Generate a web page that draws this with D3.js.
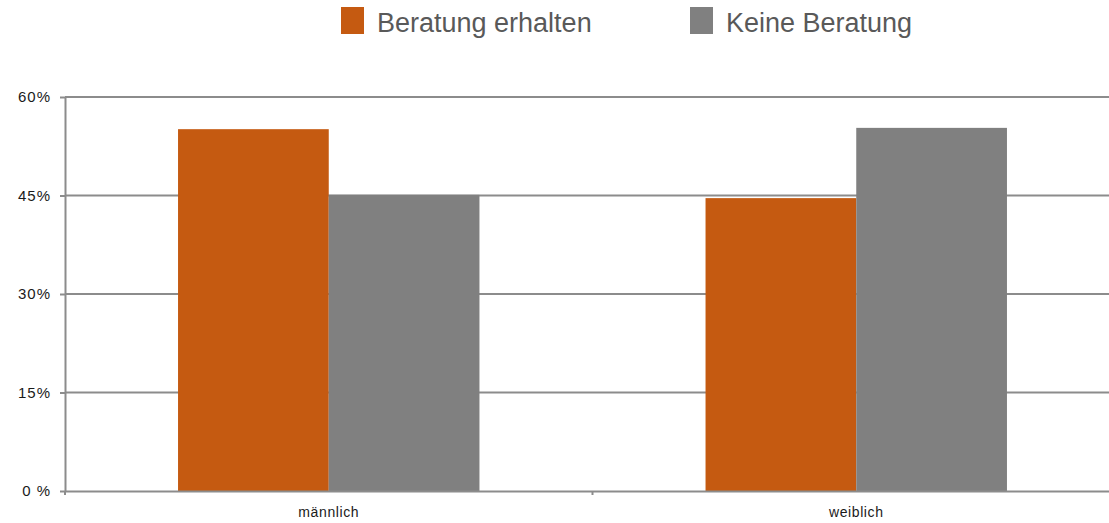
<!DOCTYPE html>
<html lang="de">
<head>
  <meta charset="UTF-8">
  <title>Beratung nach Geschlecht</title>
  <style>
    body { margin: 0; background: #fff; }
    svg { display: block; font-family: "Liberation Sans", Arial, sans-serif; }
    .grid line { stroke: #8c8c8c; stroke-width: 2px; }
    .axis path, .axis line { stroke: #8c8c8c; stroke-width: 2px; }
    .axis text { fill: #1a1a1a; font-size: 15px; letter-spacing: 1px; }
    .legend text { fill: #595959; font-size: 27px; }
  </style>
</head>
<body>
  <script src="https://cdn.jsdelivr.net/npm/d3@7"></script>
  <script>
    const categories = ['männlich', 'weiblich'];
    const seriesNames = ['Beratung erhalten', 'Keine Beratung'];
    const colors = ['#c55a11', '#808080'];
    const beratung = [0.551, 0.446];
    const keine = [0.451, 0.553];
    const yTicks = [0, 0.15, 0.30, 0.45, 0.60];

    const width = 1109, height = 523;
    const mLeft = 65, mRight = 1120, mTop = 97, mBottom = 491;

    const svg = d3.select('body').append('svg')
      .attr('width', width)
      .attr('height', height);

    const x = d3.scaleBand().domain(categories).range([mLeft, mRight]);
    const xs = d3.scaleBand().domain(seriesNames).range([0, x.bandwidth()]).paddingInner(0).paddingOuter(0.75);
    const y = d3.scaleLinear().domain([0, 0.6]).range([mBottom, mTop]);

    // gridlines
    svg.append('g').attr('class', 'grid')
      .selectAll('line')
      .data(yTicks.slice(1))
      .enter().append('line')
      .attr('x1', mLeft).attr('x2', mRight)
      .attr('y1', d => y(d)).attr('y2', d => y(d));

    // bars
    const values = [beratung, keine];
    const rows = [];
    categories.forEach((c, i) => {
      seriesNames.forEach((s, j) => rows.push({ cat: c, s: s, v: values[j][i], color: colors[j] }));
    });
    svg.append('g').selectAll('rect')
      .data(rows)
      .enter().append('rect')
      .attr('x', d => x(d.cat) + xs(d.s))
      .attr('y', d => y(d.v))
      .attr('width', xs.bandwidth())
      .attr('height', d => y(0) - y(d.v))
      .attr('fill', d => d.color);

    // y axis
    const fmt = d => d === 0 ? '0 %' : d3.format('.0%')(d);
    const yAxis = svg.append('g').attr('class', 'axis')
      .attr('transform', `translate(${mLeft},0)`)
      .call(d3.axisLeft(y).tickValues(yTicks).tickFormat(fmt).tickSize(5).tickSizeOuter(0));
    yAxis.selectAll('text').attr('dx', '-6');

    // x axis
    const xAxis = svg.append('g').attr('class', 'axis')
      .attr('transform', `translate(0,${mBottom})`)
      .call(d3.axisBottom(x).tickSize(0).tickPadding(16).tickSizeOuter(0));
    xAxis.selectAll('text').style('font-size', '14px').style('letter-spacing', '0.6px');
    xAxis.append('line')
      .attr('x1', x('weiblich')).attr('x2', x('weiblich'))
      .attr('y1', 0).attr('y2', 4);
    xAxis.append('line')
      .attr('x1', mLeft).attr('x2', mLeft)
      .attr('y1', 0).attr('y2', 4);

    // legend
    const legendX = [341, 690];
    const legend = svg.append('g').attr('class', 'legend')
      .selectAll('g')
      .data(seriesNames)
      .enter().append('g')
      .attr('transform', (d, i) => `translate(${legendX[i]},7)`);
    legend.append('rect')
      .attr('width', 23).attr('height', 27)
      .attr('fill', (d, i) => colors[i]);
    legend.append('text')
      .attr('x', 36).attr('y', 25)
      .text(d => d);
  </script>
</body>
</html>
